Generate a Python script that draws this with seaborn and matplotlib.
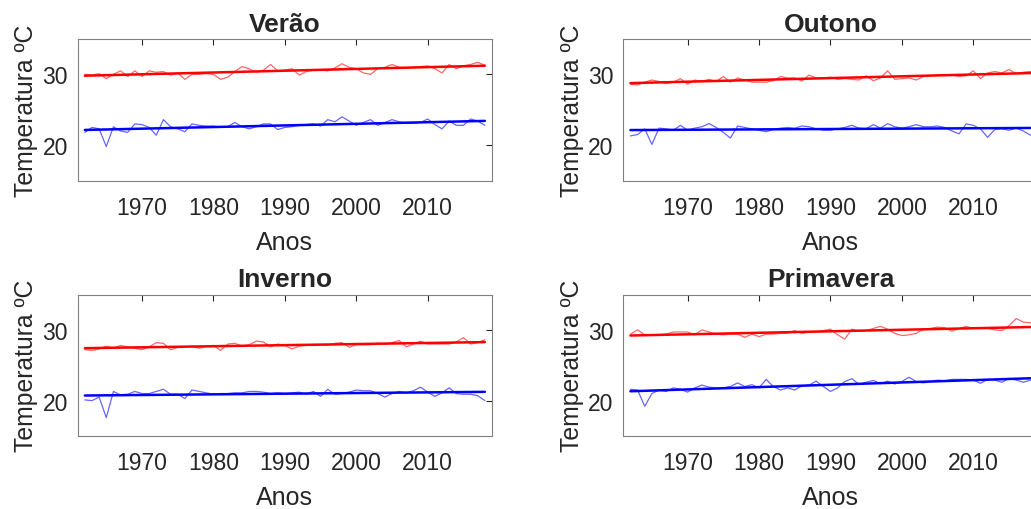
import numpy as np
import pandas as pd
import matplotlib
matplotlib.use("Agg")
import matplotlib.pyplot as plt
import seaborn as sns

# anos da serie
anos = list(range(1962, 2019))

# temperaturas maximas (vermelho) e minimas (azul) por estacao
verao_max = [30.0, 29.9, 30.1, 29.4, 30.0, 30.5, 29.7, 30.5, 29.7, 30.5, 30.3, 30.4, 29.9, 30.2, 29.3,
             30.0, 30.0, 30.1, 30.0, 29.3, 29.6, 30.4, 31.1, 30.8, 30.3, 30.6, 31.4, 30.5, 30.6,
             30.8, 29.9, 30.4, 30.6, 30.6, 30.5, 30.9, 31.5, 31.0, 30.8, 30.2, 30.0, 30.8, 31.0,
             31.4, 31.0, 30.9, 31.0, 31.1, 31.2, 30.8, 30.2, 31.4, 30.8, 31.2, 31.4, 31.7, 31.3]
verao_min = [21.8, 22.5, 22.3, 19.8, 22.6, 22.0, 21.8, 23.0, 22.9, 22.5, 21.4, 23.6, 22.6, 22.3, 21.9,
             23.0, 22.8, 22.7, 22.7, 22.5, 22.6, 23.2, 22.6, 22.3, 22.6, 23.0, 23.0, 22.2, 22.5,
             22.6, 22.8, 22.9, 23.0, 22.7, 23.6, 23.3, 24.0, 23.4, 22.8, 23.2, 23.6, 22.8, 23.2,
             23.6, 23.3, 23.1, 23.1, 23.2, 23.7, 22.9, 22.3, 23.4, 22.8, 22.8, 23.7, 23.4, 22.8]

outono_max = [28.6, 28.5, 28.9, 29.2, 29.0, 28.7, 28.9, 29.4, 28.6, 29.2, 29.0, 29.3, 29.0, 29.7, 28.9,
              29.5, 29.2, 28.9, 28.9, 28.9, 29.1, 29.7, 29.5, 29.5, 29.05, 29.9, 29.5, 29.5, 29.6,
              29.3, 29.4, 29.3, 29.2, 29.8, 29.1, 29.5, 30.5, 29.3, 29.4, 29.5, 29.2, 29.7, 29.8,
              29.9, 29.9, 29.9, 29.7, 29.8, 30.5, 29.4, 30.2, 30.4, 30.2, 30.7, 30.1, 30.3, 30.4]
outono_min = [21.3, 21.5, 22.3, 20.1, 22.4, 22.3, 22.1, 22.8, 22.1, 22.4, 22.6, 23.05, 22.5, 21.8, 21.0,
              22.7, 22.5, 22.3, 22.1, 21.9, 22.2, 22.4, 22.5, 22.4, 22.7, 22.6, 22.3, 22.1, 22.1,
              22.3, 22.5, 22.8, 22.4, 22.3, 22.9, 22.4, 23.05, 22.6, 22.4, 22.6, 22.9, 22.6, 22.6,
              22.7, 22.5, 22.0, 21.6, 23.0, 22.8, 22.3, 21.1, 22.2, 22.3, 22.1, 22.4, 22.0, 21.4]

inverno_max = [27.2, 27.1, 27.3, 27.7, 27.4, 27.8, 27.6, 27.4, 27.2, 27.6, 28.2, 28.1, 27.2, 27.5, 27.6,
               27.7, 27.4, 27.7, 27.8, 27.1, 28.0, 28.1, 27.7, 27.9, 28.4, 28.3, 27.6, 28.0, 27.8,
               27.3, 27.7, 27.8, 27.8, 27.9, 27.8, 28.1, 28.2, 27.55, 27.9, 27.9, 27.9, 28.1, 28.0,
               28.2, 28.5, 27.6, 28.0, 28.4, 28.0, 28.0, 28.0, 28.0, 28.3, 28.9, 28.0, 28.2, 28.6]
inverno_min = [20.1, 20.0, 20.5, 17.6, 21.3, 20.8, 20.9, 21.3, 21.0, 21.0, 21.3, 21.6, 20.9, 20.9, 20.3,
               21.5, 21.3, 21.1, 20.9, 21.0, 21.0, 21.1, 21.1, 21.3, 21.3, 21.2, 21.0, 21.1, 21.0,
               21.1, 21.2, 20.9, 21.3, 20.6, 21.6, 20.9, 21.0, 21.2, 21.5, 21.4, 21.4, 21.0, 20.5,
               21.0, 21.3, 21.1, 21.4, 21.9, 21.2, 20.6, 21.1, 21.8, 21.0, 20.9, 20.9, 20.7, 20.0]

primavera_max = [29.4, 30.0, 29.3, 29.3, 29.3, 29.4, 29.7, 29.7, 29.7, 29.3, 30.0, 29.7, 29.4, 29.3, 29.4,
                 29.4, 28.95, 29.4, 29.05, 29.4, 29.4, 29.5, 29.5, 29.9, 29.5, 29.7, 29.7, 29.9, 30.1,
                 29.3, 28.7, 30.1, 29.8, 29.9, 30.2, 30.5, 30.1, 29.5, 29.2, 29.3, 29.5, 30.1, 30.2,
                 30.4, 30.3, 29.8, 30.2, 30.5, 30.2, 30.2, 30.2, 30.0, 29.9, 30.6, 31.6, 31.1, 31.0]
primavera_min = [21.6, 21.5, 19.2, 21.0, 21.5, 21.3, 21.8, 21.6, 21.2, 21.8, 22.2, 21.9, 21.8, 21.8, 22.0,
                 22.5, 22.0, 22.25, 21.8, 23.0, 22.0, 21.5, 21.8, 21.5, 22.1, 22.2, 22.75, 22.0, 21.3,
                 21.8, 22.7, 23.1, 22.3, 22.6, 22.85, 22.4, 22.75, 22.35, 22.7, 23.3, 22.7, 22.5, 22.7,
                 22.9, 22.8, 23.0, 23.0, 23.0, 22.9, 22.45, 23.0, 22.9, 22.6, 23.15, 22.9, 22.6, 22.9]

titulos = ["Verão", "Outono", "Inverno", "Primavera"]
series = [(verao_max, verao_min), (outono_max, outono_min),
          (inverno_max, inverno_min), (primavera_max, primavera_min)]

sns.set_theme(style="white")
plt.rcParams['font.family'] = ['Liberation Sans', 'DejaVu Sans']
plt.rcParams['text.color'] = '#262626'
plt.rcParams['axes.labelcolor'] = '#262626'
plt.rcParams['xtick.color'] = '#262626'
plt.rcParams['ytick.color'] = '#262626'

fig = plt.figure(figsize=(10.31, 5.10), dpi=100)
W, H = 1031, 510
# posicoes dos paineis em pixels (esquerda, topo)
pos = [(77.7, 40), (623.3, 40), (77.7, 295.5), (623.3, 295.5)]
aw, ah = 414.3, 141.5

for (x0, y0), titulo, (tmax, tmin) in zip(pos, titulos, series):
    ax = fig.add_axes([x0 / W, 1 - (y0 + ah) / H, aw / W, ah / H])
    df = pd.DataFrame({"ano": anos, "tmax": tmax, "tmin": tmin})
    for col, cor in [("tmax", "#ff0000"), ("tmin", "#0000ff")]:
        sns.lineplot(data=df, x="ano", y=col, color=cor, lw=0.9, alpha=0.6, ax=ax)
        sns.regplot(data=df, x="ano", y=col, scatter=False, ci=None, color=cor,
                    line_kws={"lw": 1.8}, ax=ax)
    ax.set_xlim(1961, 2019)
    ax.set_ylim(15, 35)
    ax.set_xticks([1970, 1980, 1990, 2000, 2010])
    ax.set_yticks([20, 30])
    ax.tick_params(direction="in", length=4, width=0.8, labelsize=16.5,
                   top=True, right=True, color="#262626")
    ax.tick_params(axis="x", pad=11)
    ax.tick_params(axis="y", pad=7)
    for s in ax.spines.values():
        s.set_color("#808080")
        s.set_linewidth(0.8)
    ax.set_title(titulo, fontsize=19, fontweight="bold", pad=6)
    ax.set_xlabel("Anos", fontsize=18, labelpad=8)
    ax.set_ylabel("Temperatura ºC", fontsize=17.8, labelpad=3)

fig.savefig("out.png", dpi=100)
